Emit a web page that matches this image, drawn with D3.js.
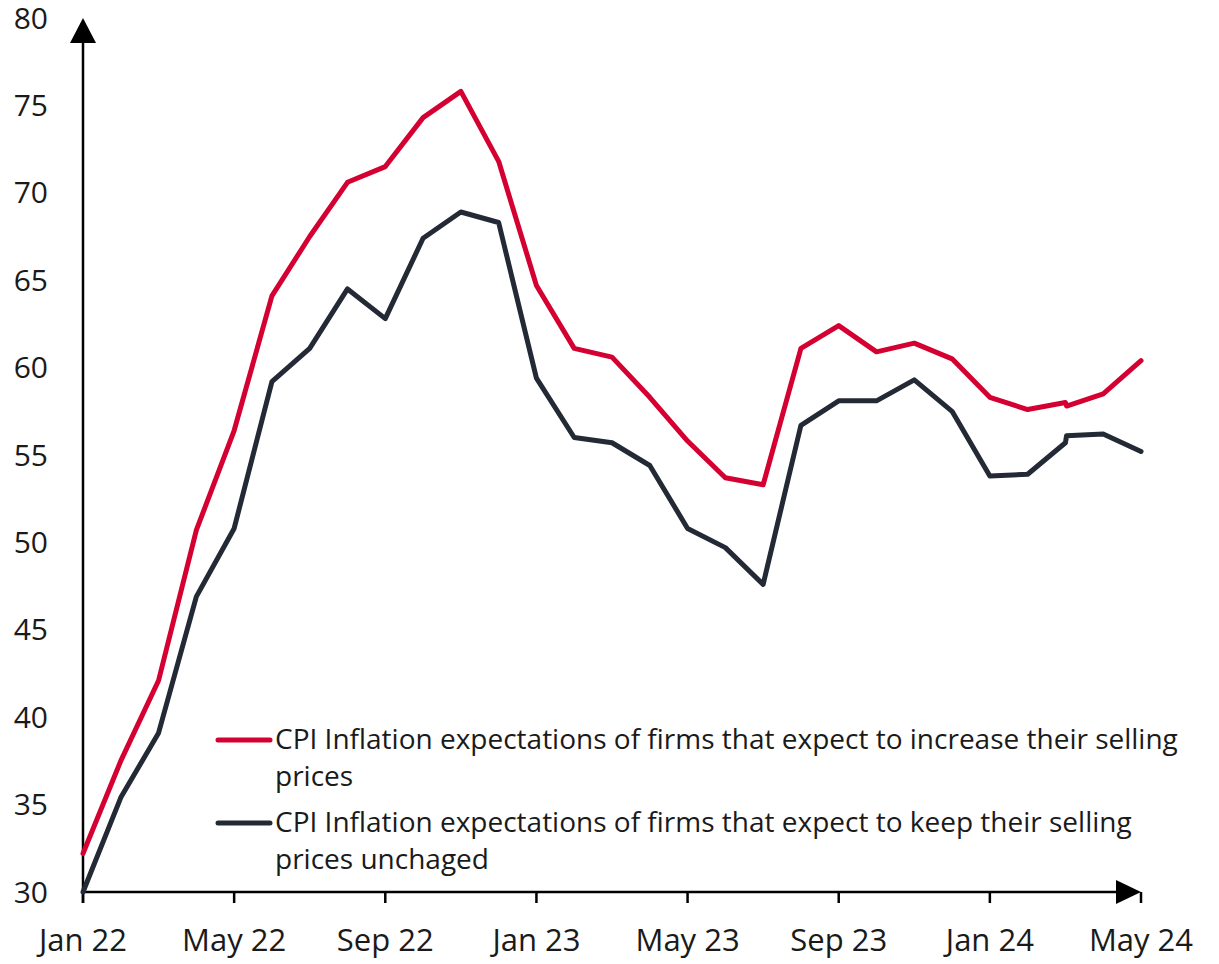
<!DOCTYPE html>
<head>
<meta charset="utf-8">
<title> CPI expectations </title>
<script type="text/javascript" src="https://cdn.jsdelivr.net/npm/d3@7/dist/d3.min.js"></script>
<style>
body { margin: 0; background: #fff; }
text { font-family: "Open Sans", sans-serif; fill: #1a1a1a; }
</style>
</head>

<body>
<script>
// monthly points Jan 22 .. May 24
var months = d3.timeMonth.range(new Date(2022, 0, 1), new Date(2024, 5, 1));
var tickLabels = ["Jan 22", "May 22", "Sep 22", "Jan 23", "May 23", "Sep 23", "Jan 24", "May 24"];
var yTicks = [30, 35, 40, 45, 50, 55, 60, 65, 70, 75, 80];

var increase = [32.2, 37.5, 42.1, 50.7, 56.4, 64.1, 67.5, 70.6, 71.5, 74.3, 75.8, 71.8,
                64.7, 61.1, 60.6, 58.3, 55.8, 53.7, 53.3, 61.1, 62.4, 60.9, 61.4, 60.5,
                58.3, 57.6, 58.0, 58.5, 60.4];
var unchanged = [30.0, 35.4, 39.1, 46.9, 50.8, 59.2, 61.1, 64.5, 62.8, 67.4, 68.9, 68.3,
                 59.4, 56.0, 55.7, 54.4, 50.8, 49.7, 47.6, 56.7, 58.1, 58.1, 59.3, 57.5,
                 53.8, 53.9, 55.7, 56.2, 55.2];
// the last stretch of each series restarts at Mar 24 with a slightly different value
var increaseRestart = 57.8;
var unchangedRestart = 56.1;

var legendNames = ["CPI Inflation expectations of firms that expect to increase their selling",
                   "prices",
                   "CPI Inflation expectations of firms that expect to keep their selling",
                   "prices unchaged"];

var red = "#d50032";
var dark = "#232a35";

var width = 1219, height = 964;
var mLeft = 83, mRight = 1141, mTop = 18, mBottom = 892;

var svg = d3.select("body").append("svg")
    .attr("width", width)
    .attr("height", height);

// even month spacing like the original
var xi = d3.scaleLinear().domain([0, months.length - 1]).range([mLeft, mRight]);
var y = d3.scaleLinear().domain([30, 80]).range([mBottom, mTop]);

// y labels (no tick marks)
svg.append("g").selectAll("text")
    .data(yTicks)
    .enter().append("text")
    .attr("x", 48)
    .attr("y", function(d) { return y(d); })
    .attr("dy", "0.35em")
    .attr("text-anchor", "end")
    .attr("font-size", "30px")
    .text(function(d) { return d; });

// x ticks every 4 months
var tickIdx = d3.range(0, months.length, 4);
var xg = svg.append("g");
xg.selectAll("line")
    .data(tickIdx)
    .enter().append("line")
    .attr("x1", function(d) { return xi(d); })
    .attr("x2", function(d) { return xi(d); })
    .attr("y1", mBottom)
    .attr("y2", mBottom + 11)
    .attr("stroke", "#000")
    .attr("stroke-width", 2.5);
xg.selectAll("text")
    .data(tickIdx)
    .enter().append("text")
    .attr("x", function(d) { return xi(d); })
    .attr("y", 951)
    .attr("text-anchor", "middle")
    .attr("font-size", "31px")
    .text(function(d, i) { return tickLabels[i]; });

// axis lines with arrow heads
svg.append("line")
    .attr("x1", mLeft).attr("x2", mLeft)
    .attr("y1", mBottom + 11).attr("y2", mTop + 20)
    .attr("stroke", "#000").attr("stroke-width", 2.5);
svg.append("path")
    .attr("d", "M" + mLeft + "," + mTop + "L" + (mLeft - 13) + "," + (mTop + 25) + "L" + (mLeft + 13) + "," + (mTop + 25) + "Z")
    .attr("fill", "#000");
svg.append("line")
    .attr("x1", mLeft).attr("x2", mRight - 20)
    .attr("y1", mBottom).attr("y2", mBottom)
    .attr("stroke", "#000").attr("stroke-width", 2.5);
svg.append("path")
    .attr("d", "M" + mRight + "," + mBottom + "L" + (mRight - 25) + "," + (mBottom - 12) + "L" + (mRight - 25) + "," + (mBottom + 12) + "Z")
    .attr("fill", "#000");

var line = d3.line()
    .x(function(d) { return xi(d[0]); })
    .y(function(d) { return y(d[1]); });

function drawSeries(values, restart, color) {
    var n = values.length;
    var pts = values.map(function(v, i) { return [i, v]; });
    // small step at Mar 24 where the series was rejoined
    pts.splice(n - 2, 0, [n - 3 + 0.03, restart]);
    svg.append("path")
        .datum(pts)
        .attr("d", line)
        .attr("fill", "none")
        .attr("stroke", color)
        .attr("stroke-width", 5)
        .attr("stroke-linejoin", "round")
        .attr("stroke-linecap", "round");
}
drawSeries(increase, increaseRestart, red);
drawSeries(unchanged, unchangedRestart, dark);

// legend
var lg = svg.append("g");
[[red, 740, 0], [dark, 823, 2]].forEach(function(e) {
    lg.append("line")
        .attr("x1", 218).attr("x2", 270)
        .attr("y1", e[1]).attr("y2", e[1])
        .attr("stroke", e[0])
        .attr("stroke-width", 5)
        .attr("stroke-linecap", "round");
    lg.append("text")
        .attr("x", 275).attr("y", e[1] + 9)
        .attr("font-size", "28px")
        .text(legendNames[e[2]]);
    lg.append("text")
        .attr("x", 275).attr("y", e[1] + 46)
        .attr("font-size", "28px")
        .text(legendNames[e[2] + 1]);
});
</script>
</body>
